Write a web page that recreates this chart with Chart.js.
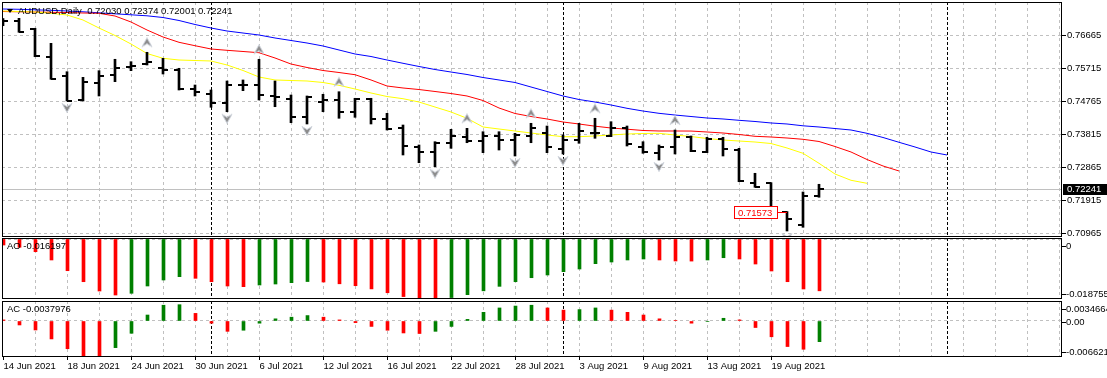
<!DOCTYPE html>
<html>
<head>
<meta charset="utf-8">
<script src="https://cdn.jsdelivr.net/npm/chart.js@4.4.1/dist/chart.umd.min.js"></script>
<style>
  body { margin: 0; background: #fff; }
  #wrap { position: relative; width: 1107px; height: 378px; }
  #wrap canvas { position: absolute; left: 0; top: 0; }
</style>
</head>
<body>
<div id="wrap">
  <canvas id="cMain" width="1107" height="378"></canvas>
  <canvas id="cAO" width="1107" height="378"></canvas>
  <canvas id="cAC" width="1107" height="378"></canvas>
</div>
<script>
// ---- data ----
const dayLabels = ['14 Jun 2021','15 Jun 2021','16 Jun 2021','17 Jun 2021','18 Jun 2021',
  '21 Jun 2021','22 Jun 2021','23 Jun 2021','24 Jun 2021','25 Jun 2021',
  '28 Jun 2021','29 Jun 2021','30 Jun 2021','1 Jul 2021','2 Jul 2021',
  '5 Jul 2021','6 Jul 2021','7 Jul 2021','8 Jul 2021','9 Jul 2021',
  '12 Jul 2021','13 Jul 2021','14 Jul 2021','15 Jul 2021','16 Jul 2021',
  '19 Jul 2021','20 Jul 2021','21 Jul 2021','22 Jul 2021','23 Jul 2021',
  '26 Jul 2021','27 Jul 2021','28 Jul 2021','29 Jul 2021','30 Jul 2021',
  '2 Aug 2021','3 Aug 2021','4 Aug 2021','5 Aug 2021','6 Aug 2021',
  '9 Aug 2021','10 Aug 2021','11 Aug 2021','12 Aug 2021','13 Aug 2021',
  '16 Aug 2021','17 Aug 2021','18 Aug 2021','19 Aug 2021','20 Aug 2021',
  '23 Aug 2021','24 Aug 2021'];

const opens = [0.77070,0.77076,0.76837,0.76041,0.75487,0.74797,0.75277,0.75515,0.75754,0.75823,
  0.75708,0.75659,0.75104,0.74969,0.74719,0.75228,0.75228,0.74912,0.74817,0.74317,
  0.74748,0.74797,0.74460,0.74817,0.74242,0.73983,0.73454,0.73311,0.73569,0.73742,
  0.73627,0.73762,0.73647,0.73762,0.73839,0.73380,0.73647,0.73857,0.73762,0.73983,
  0.73437,0.73282,0.73454,0.73725,0.73311,0.73667,0.73359,0.72420,0.72402,0.71573,
  0.71218,0.72030];
const highs = [0.77139,0.77145,0.76858,0.76426,0.75610,0.75449,0.75639,0.75967,0.75898,0.76168,
  0.75995,0.75708,0.75228,0.75084,0.75343,0.75372,0.75967,0.75343,0.74940,0.74912,
  0.74961,0.75035,0.74846,0.74846,0.74414,0.74078,0.73503,0.73598,0.73954,0.73983,
  0.73885,0.73885,0.73839,0.74127,0.74049,0.73791,0.74127,0.74271,0.74173,0.74049,
  0.73598,0.73503,0.73934,0.73762,0.73725,0.73725,0.73408,0.72690,0.72420,0.71590,
  0.72152,0.72374];
const lows = [0.76932,0.76743,0.76041,0.75392,0.74768,0.74768,0.74912,0.75323,0.75639,0.75803,
  0.75544,0.75084,0.74912,0.74587,0.74460,0.75064,0.74797,0.74604,0.74144,0.74107,
  0.74460,0.74271,0.74299,0.74107,0.73934,0.73216,0.72994,0.72879,0.73408,0.73569,
  0.73282,0.73359,0.73187,0.73569,0.73282,0.73245,0.73552,0.73696,0.73742,0.73474,
  0.73265,0.73072,0.73245,0.73311,0.73282,0.73187,0.72448,0.72287,0.71448,0.71031,
  0.71138,0.72001];
const closes = [0.77062,0.76760,0.76061,0.75400,0.74777,0.75323,0.75487,0.75708,0.75774,0.75880,
  0.75659,0.75104,0.75035,0.74719,0.75228,0.75235,0.74940,0.74892,0.74317,0.74892,
  0.74797,0.74460,0.74817,0.74242,0.73954,0.73474,0.73311,0.73552,0.73762,0.73627,
  0.73762,0.73647,0.73791,0.73983,0.73454,0.73647,0.73914,0.73839,0.73983,0.73532,
  0.73311,0.73437,0.73725,0.73339,0.73667,0.73380,0.72477,0.72305,0.71491,0.71368,
  0.72046,0.72241];

// alligator lines (already shifted forward: jaw +8, teeth +5, lips +3)
const jaw = [0.77412,0.77404,0.77389,0.77375,0.77355,0.77332,0.77303,0.77274,0.77246,0.77217,
  0.77168,0.77082,0.76967,0.76866,0.76780,0.76722,0.76665,0.76579,0.76507,0.76435,
  0.76349,0.76234,0.76119,0.76047,0.75946,0.75852,0.75760,0.75673,0.75601,0.75530,
  0.75443,0.75372,0.75300,0.75170,0.75041,0.74912,0.74811,0.74739,0.74653,0.74558,
  0.74480,0.74414,0.74365,0.74322,0.74279,0.74251,0.74213,0.74179,0.74136,0.74107,
  0.74055,0.74021,0.73977,0.73934,0.73839,0.73719,0.73581,0.73446,0.73302,0.73216];
const teeth = [0.77340,0.77332,0.77326,0.77317,0.77312,0.77297,0.77289,0.77211,0.77039,0.76809,
  0.76608,0.76455,0.76357,0.76263,0.76225,0.76191,0.76156,0.76004,0.75831,0.75731,
  0.75645,0.75587,0.75524,0.75372,0.75199,0.75142,0.75098,0.75041,0.74983,0.74912,
  0.74782,0.74567,0.74409,0.74322,0.74251,0.74164,0.74107,0.74044,0.73992,0.73957,
  0.73920,0.73906,0.73906,0.73904,0.73877,0.73848,0.73805,0.73753,0.73733,0.73704,
  0.73667,0.73604,0.73460,0.73302,0.73086,0.72900,0.72756];
const lips = [0.77355,0.77340,0.77326,0.77289,0.77240,0.77096,0.76866,0.76651,0.76406,0.76133,
  0.75995,0.75946,0.75932,0.75918,0.75803,0.75645,0.75458,0.75372,0.75357,0.75343,
  0.75300,0.75219,0.75113,0.74998,0.74897,0.74834,0.74739,0.74595,0.74452,0.74271,
  0.74021,0.73963,0.73906,0.73848,0.73791,0.73742,0.73742,0.73762,0.73791,0.73819,
  0.73834,0.73839,0.73791,0.73747,0.73690,0.73647,0.73618,0.73589,0.73546,0.73417,
  0.73265,0.72977,0.72670,0.72489,0.72402];

const fracUp = [9, 16, 21, 29, 33, 37, 42];
const fracDn = [4, 14, 19, 27, 32, 35, 41, 49];

const aoVals = [-0.00188,-0.00259,-0.00397,-0.00656,-0.00991,-0.01335,-0.01626,-0.01751,-0.01697,-0.01469,
  -0.01282,-0.01178,-0.01229,-0.01335,-0.01469,-0.01491,-0.01438,-0.01407,-0.01366,-0.01330,
  -0.01345,-0.01400,-0.01460,-0.01560,-0.01680,-0.01800,-0.01860,-0.018755,-0.01830,-0.01740,
  -0.01620,-0.01480,-0.01335,-0.01210,-0.01125,-0.01022,-0.00938,-0.00772,-0.00719,-0.00656,
  -0.00625,-0.00656,-0.00688,-0.00690,-0.00656,-0.00585,-0.00625,-0.00782,-0.01000,-0.01335,
  -0.01563,-0.016197];
const acVals = [0.0002,-0.00073,-0.00165,-0.0033,-0.0051,-0.0064,-0.0066219,-0.0049,-0.00226,0.0011,
  0.0029,0.0030,0.0014,-0.0004,-0.0019,-0.0017,-0.0004,0.0004,0.0007,0.0010,
  0.0007,0.0002,-0.0003,-0.0010,-0.0017,-0.0022,-0.0023,-0.0019,-0.0010,0.0003,
  0.0016,0.0024,0.00275,0.0029,0.0024,0.0020,0.0021,0.0024,0.0020,0.0016,
  0.0011,0.0004,0.0001,-0.0004,-0.0001,0.0005,0.0002,-0.0012,-0.0029,-0.0047,
  -0.0052,-0.0037976];

const priceTicks = [0.76665, 0.75715, 0.74765, 0.73815, 0.72865, 0.71915, 0.70965];
const aoTicks = [0, -0.018755];
const acTicks = [0.0034664, 0, -0.0066219];
const markPrice = 0.71573, markIdx = 49;
const futureSep = 59;

// ---- layout / style ----
const H = 378, LEFT = 2, RIGHT = 1062, AXW = 1107 - RIGHT;
const GRID = '#c0c0c0', GREEN = '#008000', RED = '#ff0000';
const FONT = '"Liberation Sans", Arial, sans-serif';
Chart.defaults.font.family = FONT;
Chart.defaults.font.size = 9.5;
Chart.defaults.color = '#000';

const last = closes.length - 1;
const X0 = -1 / 16;              // bar 0 centred on pixel 3
const X0h = X0 - 0.5 / 16;       // histogram panels, odd-width bars
const span = (RIGHT - LEFT) / 16;
const gridIdx = Array.from({length: 33}, (_, k) => 2 + 2 * k);
const labelIdx = dayLabels.map((_, i) => i).filter(i => i % 4 === 0);
const month = s => s.split(' ')[1];
const sepIdx = dayLabels.map((d, i) => i > 0 && month(d) !== month(dayLabels[i - 1]) ? i : -1)
  .filter(i => i > 0).concat([futureSep]);

const pts = arr => arr.map((v, i) => ({x: i, y: v}));
const barColors = arr => arr.map((v, i) => i > 0 && v > arr[i - 1] ? GREEN : RED);

function tickImg(left) {
  const c = document.createElement('canvas');
  c.width = 12; c.height = 2;
  const g = c.getContext('2d');
  g.fillStyle = '#000';
  g.fillRect(left ? 1 : 6, 0, 5, 2);
  return c;
}
function arrowImg(up) {
  const c = document.createElement('canvas');
  c.width = 12; c.height = 40;
  const g = c.getContext('2d');
  const cy = up ? 10 : 27, d = up ? 1 : -1;
  g.beginPath();
  g.moveTo(6, cy - 4.5 * d);
  g.lineTo(11, cy + 4.5 * d);
  g.lineTo(6, cy + 1.5 * d);
  g.lineTo(1, cy + 4.5 * d);
  g.closePath();
  g.fillStyle = '#8c8c8c';
  g.fill();
  g.strokeStyle = '#cfd4dc';
  g.lineWidth = 1;
  g.stroke();
  return c;
}

function xAxis(min) {
  return {
    type: 'linear', min: min, max: min + span, offset: false,
    afterBuildTicks: s => { s.ticks = gridIdx.map(v => ({value: v})); },
    afterFit: s => { s.height = 0; s.paddingLeft = 0; s.paddingRight = 0; },
    ticks: {display: false},
    grid: {color: GRID, drawTicks: false, offset: false},
    border: {display: false, dash: [3, 3]}
  };
}
function yAxis(min, max, tickVals, labels) {
  return {
    position: 'right', min: min, max: max,
    afterBuildTicks: s => { s.ticks = tickVals.map(v => ({value: v})); },
    afterFit: s => { s.width = AXW; s.paddingTop = 0; s.paddingBottom = 0; },
    ticks: labels ? {callback: v => v.toFixed(5), padding: 1} : {display: false},
    grid: {color: GRID, drawTicks: !!labels, tickLength: 4, tickColor: '#000', tickBorderDash: []},
    border: {display: false, dash: [3, 3]}
  };
}

function drawSeps(chart) {
  const {ctx, chartArea: a, scales: {x}} = chart;
  ctx.save();
  ctx.strokeStyle = '#000';
  ctx.lineWidth = 1;
  ctx.setLineDash([3, 2]);
  sepIdx.forEach(i => {
    const px = Math.floor(x.getPixelForValue(i)) + 0.5;
    ctx.beginPath(); ctx.moveTo(px, a.top); ctx.lineTo(px, a.bottom); ctx.stroke();
  });
  ctx.restore();
}
function drawFrame(chart) {
  const {ctx, chartArea: a} = chart;
  ctx.save();
  ctx.strokeStyle = '#000';
  ctx.lineWidth = 1;
  ctx.strokeRect(a.left + 0.5, a.top + 0.5, a.width - 1, a.height - 1);
  ctx.restore();
}

function panelPlugin(title, ticks, fmt) {
  return {
    id: 'panel',
    beforeDatasetsDraw: drawSeps,
    afterDraw(chart) {
      const {ctx, chartArea: a, scales: {y}} = chart;
      drawFrame(chart);
      ctx.save();
      ctx.font = '9.5px ' + FONT;
      ctx.fillStyle = '#000';
      ctx.textBaseline = 'middle';
      ctx.fillText(title, 7, a.top + 8);
      ticks.forEach(v => {
        const py = Math.min(Math.max(y.getPixelForValue(v) + 1, a.top + 8), a.bottom - 5);
        ctx.fillRect(a.right, Math.round(py), 4, 1);
        ctx.fillText(fmt(v), a.right + 4, py);
      });
      ctx.restore();
    }
  };
}

const mainDeco = {
  id: 'mainDeco',
  beforeDatasetsDraw(chart) {
    drawSeps(chart);
    const {ctx, chartArea: a, scales: {y}} = chart;
    const py = Math.round(y.getPixelForValue(closes[last])) + 0.5;
    ctx.save();
    ctx.strokeStyle = GRID;
    ctx.lineWidth = 1;
    ctx.beginPath(); ctx.moveTo(a.left, py); ctx.lineTo(a.right, py); ctx.stroke();
    ctx.restore();
  },
  afterDraw(chart) {
    const {ctx, chartArea: a, scales: {x, y}} = chart;
    drawFrame(chart);
    ctx.save();
    ctx.font = '9.5px ' + FONT;
    ctx.textBaseline = 'middle';
    // title
    ctx.fillStyle = '#000';
    ctx.beginPath(); ctx.moveTo(7, 9); ctx.lineTo(13, 9); ctx.lineTo(10, 13); ctx.closePath(); ctx.fill();
    const ohlc = [opens[last], highs[last], lows[last], closes[last]].map(v => v.toFixed(5)).join(' ');
    ctx.fillText('AUDUSD,Daily  ' + ohlc, 18, 11);
    // price mark label
    const my = Math.round(y.getPixelForValue(markPrice)) + 0.5;
    const mx = x.getPixelForValue(markIdx);
    const txt = markPrice.toFixed(5);
    const tw = Math.ceil(ctx.measureText(txt).width) + 8;
    const bx = Math.round(mx - 10) - tw;
    ctx.strokeStyle = RED;
    ctx.lineWidth = 1;
    ctx.fillStyle = '#fff';
    ctx.fillRect(bx + 0.5, my - 6, tw, 12);
    ctx.strokeRect(bx + 0.5, my - 6, tw, 12);
    ctx.beginPath(); ctx.moveTo(bx + tw, my); ctx.lineTo(mx, my); ctx.stroke();
    ctx.fillStyle = RED;
    ctx.fillText(txt, bx + 4, my + 0.5);
    // current price box on the axis
    const cy = y.getPixelForValue(closes[last]);
    ctx.fillStyle = '#000';
    ctx.fillRect(a.right + 1, Math.round(cy) - 5, 45, 11);
    ctx.fillStyle = '#fff';
    ctx.fillText(closes[last].toFixed(5), a.right + 5, Math.round(cy) + 0.5);
    ctx.restore();
  }
};

const baseOpts = {
  responsive: false, animation: false, devicePixelRatio: 1, events: [],
  plugins: {legend: {display: false}, tooltip: {enabled: false}}
};

// ---- main price panel ----
new Chart(document.getElementById('cMain'), {
  type: 'bar',
  data: {
    datasets: [
      {type: 'line', data: fracUp.map(i => ({x: i, y: highs[i]})), showLine: false, pointStyle: arrowImg(true), pointRadius: 3},
      {type: 'line', data: fracDn.map(i => ({x: i, y: lows[i]})), showLine: false, pointStyle: arrowImg(false), pointRadius: 3},
      {type: 'line', data: pts(opens), showLine: false, pointStyle: tickImg(true), pointRadius: 3},
      {type: 'line', data: pts(closes), showLine: false, pointStyle: tickImg(false), pointRadius: 3},
      {type: 'bar', data: lows.map((l, i) => ({x: i, y: [l, highs[i]]})), backgroundColor: '#000', barThickness: 2},
      {type: 'line', data: pts(lips), borderColor: '#ffff00', borderWidth: 1, pointRadius: 0},
      {type: 'line', data: pts(teeth), borderColor: '#ff0000', borderWidth: 1, pointRadius: 0},
      {type: 'line', data: pts(jaw), borderColor: '#0000ff', borderWidth: 1, pointRadius: 0}
    ]
  },
  options: Object.assign({}, baseOpts, {
    layout: {padding: {left: LEFT, top: 2, right: 0, bottom: H - 237}, autoPadding: false},
    scales: {
      x: xAxis(X0),
      y: yAxis(0.708587, 0.776136, priceTicks, true)
    }
  }),
  plugins: [mainDeco]
});

// ---- AO panel ----
new Chart(document.getElementById('cAO'), {
  type: 'bar',
  data: {datasets: [{data: pts(aoVals), backgroundColor: barColors(aoVals), barThickness: 3}]},
  options: Object.assign({}, baseOpts, {
    layout: {padding: {left: LEFT, top: 238, right: 0, bottom: H - 299}, autoPadding: false},
    scales: {
      x: xAxis(X0h),
      y: yAxis(aoTicks[1], 0.000313, [0], false)
    }
  }),
  plugins: [panelPlugin('AO ' + aoVals[last].toFixed(6), aoTicks, v => v === 0 ? '0' : v.toFixed(6))]
});

// ---- AC panel (carries the date axis) ----
const acX = xAxis(X0h);
new Chart(document.getElementById('cAC'), {
  type: 'bar',
  data: {datasets: [{data: pts(acVals), backgroundColor: barColors(acVals), barThickness: 3}]},
  options: Object.assign({}, baseOpts, {
    layout: {padding: {left: LEFT, top: 301, right: 0, bottom: 0}, autoPadding: false},
    scales: {
      x: acX,
      x2: {
        type: 'linear', position: 'bottom', min: acX.min, max: acX.max, offset: false,
        afterBuildTicks: s => { s.ticks = labelIdx.map(v => ({value: v})); },
        afterFit: s => { s.height = H - 357; s.paddingLeft = 0; s.paddingRight = 0; },
        ticks: {callback: v => dayLabels[v], align: 'start', maxRotation: 0, autoSkip: false, padding: 1},
        grid: {drawOnChartArea: false, drawTicks: true, tickLength: 3, tickColor: '#000', offset: false},
        border: {display: false}
      },
      y: yAxis(acTicks[2], 0.0036788, [0], false)
    }
  }),
  plugins: [panelPlugin('AC ' + acVals[last].toFixed(7), acTicks, v => v === 0 ? '0.00' : v.toFixed(7))]
});
</script>
</body>
</html>
